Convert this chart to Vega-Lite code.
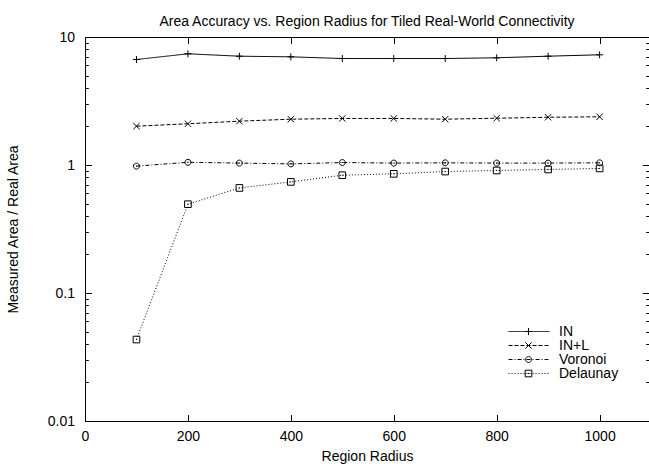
{
  "$schema": "https://vega.github.io/schema/vega-lite/v6.json",
  "autosize": "none",
  "padding": {"left": 85, "top": 37, "right": 0, "bottom": 45},
  "width": 564,
  "height": 384,
  "background": "white",
  "title": {"text": "Area Accuracy vs. Region Radius for Tiled Real-World Connectivity", "font": "Liberation Sans", "fontSize": 14, "fontWeight": "normal", "color": "black", "anchor": "middle", "baseline": "alphabetic", "offset": 12.5, "dy": 22.5},
  "config": {
    "font": "Liberation Sans",
    "view": {"stroke": null},
    "axis": {"labelFont": "Liberation Sans", "labelFontSize": 14, "labelColor": "black", "titleFont": "Liberation Sans", "titleFontSize": 14, "titleFontWeight": "normal", "titleColor": "black", "tickColor": "black", "domainColor": "black", "grid": false, "tickWidth": 1, "domainWidth": 1}
  },
  "data": {"values": [
    {"series": "IN", "r": 100, "v": 6.67}, {"series": "IN", "r": 200, "v": 7.39}, {"series": "IN", "r": 300, "v": 7.08}, {"series": "IN", "r": 400, "v": 7.0}, {"series": "IN", "r": 500, "v": 6.79},
    {"series": "IN", "r": 600, "v": 6.79}, {"series": "IN", "r": 700, "v": 6.79}, {"series": "IN", "r": 800, "v": 6.88}, {"series": "IN", "r": 900, "v": 7.08}, {"series": "IN", "r": 1000, "v": 7.26},
    {"series": "IN+L", "r": 100, "v": 2.01}, {"series": "IN+L", "r": 200, "v": 2.10}, {"series": "IN+L", "r": 300, "v": 2.20}, {"series": "IN+L", "r": 400, "v": 2.28}, {"series": "IN+L", "r": 500, "v": 2.31},
    {"series": "IN+L", "r": 600, "v": 2.31}, {"series": "IN+L", "r": 700, "v": 2.28}, {"series": "IN+L", "r": 800, "v": 2.32}, {"series": "IN+L", "r": 900, "v": 2.36}, {"series": "IN+L", "r": 1000, "v": 2.38},
    {"series": "Voronoi", "r": 100, "v": 0.98}, {"series": "Voronoi", "r": 200, "v": 1.05}, {"series": "Voronoi", "r": 300, "v": 1.035}, {"series": "Voronoi", "r": 400, "v": 1.02}, {"series": "Voronoi", "r": 500, "v": 1.045},
    {"series": "Voronoi", "r": 600, "v": 1.035}, {"series": "Voronoi", "r": 700, "v": 1.04}, {"series": "Voronoi", "r": 800, "v": 1.035}, {"series": "Voronoi", "r": 900, "v": 1.035}, {"series": "Voronoi", "r": 1000, "v": 1.04},
    {"series": "Delaunay", "r": 100, "v": 0.0433}, {"series": "Delaunay", "r": 200, "v": 0.494}, {"series": "Delaunay", "r": 300, "v": 0.662}, {"series": "Delaunay", "r": 400, "v": 0.738}, {"series": "Delaunay", "r": 500, "v": 0.832},
    {"series": "Delaunay", "r": 600, "v": 0.853}, {"series": "Delaunay", "r": 700, "v": 0.889}, {"series": "Delaunay", "r": 800, "v": 0.906}, {"series": "Delaunay", "r": 900, "v": 0.923}, {"series": "Delaunay", "r": 1000, "v": 0.94}
  ]},
  "resolve": {"axis": {"x": "independent", "y": "independent"}},
  "layer": [
    {
      "mark": {"type": "line", "color": "black", "strokeWidth": 1},
      "encoding": {
        "x": {"field": "r", "type": "quantitative", "scale": {"domain": [0, 1096], "nice": false, "zero": false},
          "axis": {"orient": "bottom", "values": [0, 200, 400, 600, 800, 1000], "format": "d", "tickSize": -6.5, "labelPadding": 15, "labelFlush": false, "labelOverlap": false, "title": "Region Radius", "titleY": 39, "titleBaseline": "alphabetic"}},
        "y": {"field": "v", "type": "quantitative", "scale": {"type": "log", "domain": [0.01, 10], "nice": false},
          "axis": {"orient": "left",
            "values": [0.01, 0.02, 0.03, 0.04, 0.05, 0.06, 0.07, 0.08, 0.09, 0.1, 0.2, 0.3, 0.4, 0.5, 0.6, 0.7, 0.8, 0.9, 1, 2, 3, 4, 5, 6, 7, 8, 9, 10],
            "format": "~g",
            "labelExpr": "indexof([0.01, 0.1, 1, 10], datum.value) >= 0 ? datum.label : ''",
            "tickSize": {"condition": {"test": "indexof([0.01, 0.1, 1, 10], datum.value) >= 0", "value": -6.5}, "value": -3.3},
            "labelPadding": 17, "labelOverlap": false, "labelBound": false,
            "title": "Measured Area / Real Area", "titleX": -72, "titleBaseline": "middle"}},
        "strokeDash": {"field": "series", "type": "nominal", "sort": ["IN", "IN+L", "Voronoi", "Delaunay"],
          "scale": {"range": [[1, 0], [4, 2], [4, 2, 1, 2], [1, 2]]},
          "legend": {"orient": "none", "legendX": 437, "legendY": 287.5, "title": null, "padding": 0,
            "symbolType": "M-6.83,0H6.83", "symbolSize": 36, "symbolStrokeWidth": 1, "symbolStrokeColor": "black",
            "labelFont": "Liberation Sans", "labelFontSize": 14, "labelColor": "black", "labelOffset": 23, "rowPadding": 0}}
      }
    },
    {
      "mark": {"type": "point", "filled": false, "color": "black", "strokeWidth": 1, "size": 49, "opacity": 1},
      "encoding": {
        "x": {"field": "r", "type": "quantitative",
          "axis": {"orient": "top", "values": [0, 200, 400, 600, 800, 1000], "tickSize": -6.5, "labels": false, "title": null}},
        "y": {"field": "v", "type": "quantitative",
          "axis": {"orient": "right",
            "values": [0.01, 0.02, 0.03, 0.04, 0.05, 0.06, 0.07, 0.08, 0.09, 0.1, 0.2, 0.3, 0.4, 0.5, 0.6, 0.7, 0.8, 0.9, 1, 2, 3, 4, 5, 6, 7, 8, 9, 10],
            "tickSize": {"condition": {"test": "indexof([0.01, 0.1, 1, 10], datum.value) >= 0", "value": -6.5}, "value": -3.3},
            "labels": false, "domain": false, "title": null}},
        "shape": {"field": "series", "type": "nominal",
          "scale": {"domain": ["IN", "IN+L", "Voronoi", "Delaunay"],
            "range": ["M-1,0H1M0,-1V1", "M-0.9,-0.9L0.9,0.9M-0.9,0.9L0.9,-0.9", "M0.85,0A0.85,0.85 0 1,1 -0.85,0A0.85,0.85 0 1,1 0.85,0ZM0,-0.15V0.15", "M-0.95,-0.95H0.95V0.95H-0.95ZM0,-0.15V0.15"]},
          "legend": {"orient": "none", "legendX": 436.5, "legendY": 287.5, "title": null, "padding": 0,
            "symbolSize": 49, "symbolStrokeWidth": 1, "symbolStrokeColor": "black", "symbolFillColor": "transparent",
            "labelFontSize": 14, "labelExpr": "''", "rowPadding": 0}}
      }
    }
  ]
}
